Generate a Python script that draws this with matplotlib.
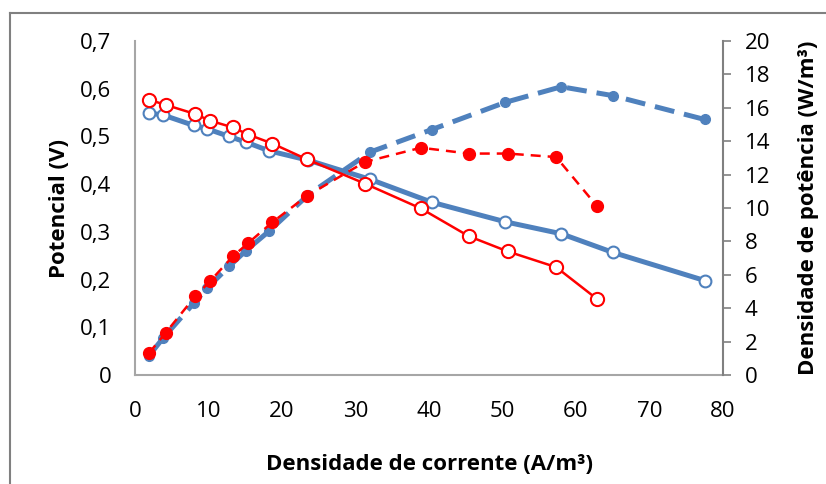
import matplotlib
matplotlib.use("Agg")
import matplotlib.pyplot as plt
from matplotlib.lines import Line2D

# Data
blue_i = [1.9, 3.8, 8.0, 9.8, 12.8, 15.1, 18.2, 23.6, 32.0, 40.4, 50.4, 58.0, 65.0, 77.5]
blue_v = [0.549, 0.545, 0.523, 0.516, 0.500, 0.488, 0.470, 0.450, 0.410, 0.362, 0.321, 0.296, 0.257, 0.198]
blue_p = [1.15, 2.2, 4.3, 5.2, 6.5, 7.45, 8.6, 10.8, 13.35, 14.7, 16.33, 17.26, 16.73, 15.3]

red_i = [1.9, 4.2, 8.2, 10.2, 13.3, 15.4, 18.7, 23.4, 31.3, 38.9, 45.4, 50.7, 57.3, 62.8]
red_v = [0.577, 0.566, 0.547, 0.533, 0.519, 0.504, 0.485, 0.452, 0.401, 0.349, 0.291, 0.259, 0.226, 0.160]
red_p = [1.31, 2.54, 4.72, 5.61, 7.10, 7.90, 9.15, 10.73, 12.76, 13.61, 13.26, 13.26, 13.05, 10.14]

x_ticks = [0, 10, 20, 30, 40, 50, 60, 70, 80]
v_ticks = [0, 0.1, 0.2, 0.3, 0.4, 0.5, 0.6, 0.7]
v_labels = ["0", "0,1", "0,2", "0,3", "0,4", "0,5", "0,6", "0,7"]
p_ticks = [0, 2, 4, 6, 8, 10, 12, 14, 16, 18, 20]

BLUE = "#4F81BD"
RED = "#FF0000"
GRAY = "#A6A6A6"

plt.rcParams['font.family'] = ['Open Sans', 'DejaVu Sans']

W, H = 826, 484
fig = plt.figure(figsize=(W / 100, H / 100), dpi=100)
ax = fig.add_axes([135 / W, 1 - 375 / H, (723 - 135) / W, (375 - 41) / H])
ax2 = ax.twinx()

# Potential curves (primary axis)
ax.plot(blue_i, blue_v, color=BLUE, lw=3.6, marker='o', ms=8.5, mfc='white',
        mec=BLUE, mew=1.5, zorder=3)
ax.plot(red_i, red_v, color=RED, lw=1.8, marker='o', ms=9.5, mfc='white',
        mec=RED, mew=1.5, zorder=4)

# Power curves (secondary axis)
ax2.plot(blue_i, blue_p, color=BLUE, lw=3.6, dashes=(4, 2), marker='o', ms=7,
         mfc=BLUE, mec=BLUE, zorder=3)
ax2.plot(red_i, red_p, color=RED, lw=1.8, dashes=(4, 2.8), marker='o', ms=8.5,
         mfc=RED, mec=RED, zorder=4)

ax.set_xlim(0, 80)
ax.set_ylim(0, 0.7)
ax2.set_ylim(0, 20)

ax.set_xticks(x_ticks)
ax.set_xticklabels([str(t) for t in x_ticks])
ax.set_yticks(v_ticks)
ax.set_yticklabels(v_labels)
ax2.set_yticks(p_ticks)
ax2.set_yticklabels([str(t) for t in p_ticks])

fs = 16
ax.tick_params(axis='x', length=0, pad=19, labelsize=fs, colors='black')
ax.tick_params(axis='y', length=0, pad=17, labelsize=fs, colors='black')
ax2.tick_params(axis='y', length=5.5, width=1.2, color='#808080', pad=10,
                labelsize=fs, direction='out')

for a in (ax, ax2):
    a.spines['top'].set_visible(False)
    for s in ('left', 'bottom', 'right'):
        a.spines[s].set_color(GRAY)
        a.spines[s].set_linewidth(1.5)
ax.spines['right'].set_visible(False)
ax2.spines['left'].set_visible(False)
ax2.spines['bottom'].set_visible(False)
ax2.spines['right'].set_color('#808080')

ax.set_xlabel("Densidade de corrente (A/m³)", fontsize=fs, fontweight='bold', labelpad=23)
ax.set_ylabel("Potencial (V)", fontsize=fs, fontweight='bold', labelpad=7)
ax2.set_ylabel("Densidade de potência (W/m³)", fontsize=fs, fontweight='bold', labelpad=20)

# Outer chart-area frame (left and top edges visible)
fig.add_artist(Line2D([10 / W, 10 / W], [0, 1 - 13 / H], transform=fig.transFigure,
                      color='#808080', lw=1.5))
fig.add_artist(Line2D([10 / W, 1], [1 - 13 / H, 1 - 13 / H], transform=fig.transFigure,
                      color='#808080', lw=1.5))

fig.savefig("out.png", dpi=100)
